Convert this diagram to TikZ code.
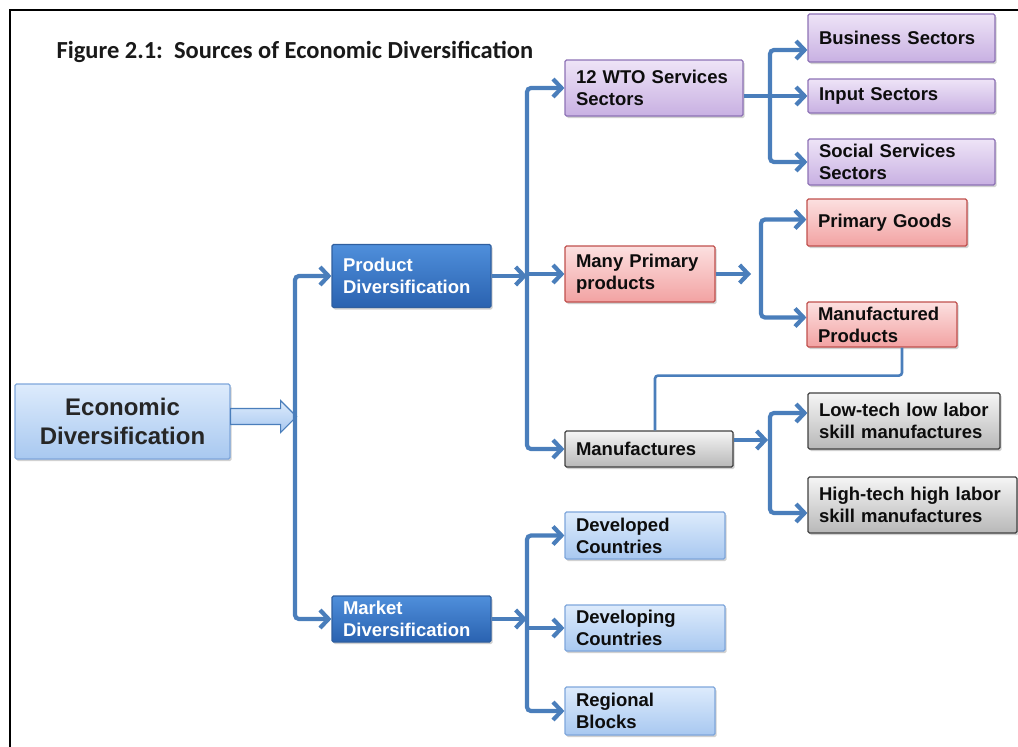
\documentclass[tikz,border=0pt]{standalone}
\usepackage{fontspec}
\setmainfont{Liberation Sans}[WordSpace=0.6]
\newfontfamily\titlefont{Carlito}
\usetikzlibrary{arrows.meta,shadows,calc}
\definecolor{connblue}{HTML}{4A7EBB}
\definecolor{lbTop}{HTML}{DDEBFC}
\definecolor{lbBot}{HTML}{A8C8F0}
\definecolor{lbLine}{HTML}{7EA6DB}
\definecolor{dbTop}{HTML}{4F8FDB}
\definecolor{dbBot}{HTML}{2A62B0}
\definecolor{dbLine}{HTML}{2F5F9F}
\definecolor{puTop}{HTML}{EEE4F7}
\definecolor{puBot}{HTML}{C8B0E2}
\definecolor{puLine}{HTML}{8D72B5}
\definecolor{rdTop}{HTML}{FCE0E0}
\definecolor{rdBot}{HTML}{F2A2A2}
\definecolor{rdLine}{HTML}{C0504D}
\definecolor{grTop}{HTML}{F5F5F5}
\definecolor{grBot}{HTML}{B8B8B8}
\definecolor{grLine}{HTML}{404040}
\begin{document}
\begin{tikzpicture}[x=1pt,y=-1pt,
  box/.style={draw, line width=1.2pt, rounded corners=1.5pt, inner xsep=11pt, inner ysep=1pt,
    align=left, text=black!95, font=\fontsize{18.5}{22}\selectfont\bfseries,
    drop shadow={shadow xshift=1.5pt, shadow yshift=-2pt, fill=black!45, opacity=0.4}},
  lightblue/.style={box, top color=lbTop, bottom color=lbBot, draw=lbLine},
  darkblue/.style={box, top color=dbTop, bottom color=dbBot, draw=dbLine, text=white},
  purplebox/.style={box, top color=puTop, bottom color=puBot, draw=puLine},
  redbox/.style={box, top color=rdTop, bottom color=rdBot, draw=rdLine},
  greybox/.style={box, top color=grTop, bottom color=grBot, draw=grLine},
  conn/.style={draw=connblue, line width=4.2pt, >={Straight Barb[length=8.5pt,width=18pt]}},
  link/.style={draw=connblue, line width=2.6pt},
  fatarrow/.style={draw=connblue, line width=1.2pt, top color=lbTop, bottom color=lbBot}
]
\useasboundingbox (0,0) rectangle (1018,747);

% frame and title
\draw[line width=2.2pt] (10,747) -- (10,10) -- (1018,10);
\node[anchor=base west, font=\titlefont\bfseries\fontsize{24.5}{28}\selectfont, text=black!90]
  (title) at (53,58) {Figure 2.1:\ \ Sources of Economic Diversification};

% root and the two branches
\node[lightblue, minimum width=215pt, minimum height=75pt, align=center,
  font=\fontsize{24}{29}\selectfont\bfseries, text=black!85] (econ) at (122.5,421.5)
  {Economic\\Diversification};
\node[darkblue, minimum width=159pt, minimum height=63pt, text width=137pt] (prod) at (411.5,276)
  {Product\\Diversification};
\node[darkblue, minimum width=159pt, minimum height=46pt, text width=137pt] (market) at (411.5,619)
  {Market\\Diversification};

% product branch
\node[purplebox, minimum width=178pt, minimum height=56pt, text width=156pt] (wto) at (654,88)
  {\mbox{12 WTO Services}\\Sectors};
\node[purplebox, minimum width=187pt, minimum height=48pt, text width=165pt] (bus) at (901.5,38)
  {Business Sectors};
\node[purplebox, minimum width=187pt, minimum height=34pt, text width=165pt] (inp) at (901.5,96)
  {Input Sectors};
\node[purplebox, minimum width=187pt, minimum height=46pt, text width=165pt] (soc) at (901.5,162)
  {Social Services\\Sectors};
\node[redbox, minimum width=150pt, minimum height=56pt, text width=128pt] (many) at (640,274)
  {\mbox{Many Primary}\\products};
\node[redbox, minimum width=160pt, minimum height=47pt, text width=138pt] (pg) at (887,222.5)
  {Primary Goods};
\node[redbox, minimum width=150pt, minimum height=45pt, text width=128pt] (mp) at (882,324.5)
  {Manufactured\\Products};
\node[greybox, minimum width=168pt, minimum height=36pt, text width=146pt] (manu) at (649,449)
  {Manufactures};
\node[greybox, minimum width=192pt, minimum height=56pt, text width=170pt] (low) at (904,421)
  {\mbox{Low-tech low labor}\\\mbox{skill manufactures}};
\node[greybox, minimum width=209pt, minimum height=56pt, text width=187pt] (high) at (912.5,505)
  {\mbox{High-tech high labor}\\\mbox{skill manufactures}};

% market branch
\node[lightblue, minimum width=160pt, minimum height=47pt, text width=138pt] (dev) at (645,535.5)
  {Developed\\Countries};
\node[lightblue, minimum width=160pt, minimum height=46pt, text width=138pt] (devg) at (645,628)
  {Developing\\Countries};
\node[lightblue, minimum width=150pt, minimum height=48pt, text width=128pt] (reg) at (640,711)
  {Regional\\Blocks};

% spine positions
\coordinate (sA) at (295,0);
\coordinate (sB) at (527,0);
\coordinate (sC) at (770,0);
\coordinate (sE) at (761,0);

% block arrow from the root to its spine
\draw[fatarrow] ([yshift=13pt]econ.east) -- ++(50,0) -- ++(0,-8) -- ++(16,16)
  -- ++(-16,16) -- ++(0,-8) -- ++(-50,0) -- cycle;
\draw[conn,<->,rounded corners=4pt] (prod.west) -| (sA |- market.west) -- (market.west);

% product diversification fan-out
\draw[conn,->] (prod.east) -- (sB |- prod.east);
\draw[conn,<->,rounded corners=4pt] (wto.west) -| (sB |- manu.west) -- (manu.west);
\draw[conn,->] (sB |- many.west) -- (many.west);

% services sectors
\coordinate (busin) at ([yshift=-12pt]bus.west);
\draw[conn,<->,rounded corners=4pt] (busin) -| (sC |- soc.west) -- (soc.west);
\draw[conn,->] (wto.east |- inp.west) -- (inp.west);

% primary products
\coordinate (pgin) at ([yshift=3pt]pg.west);
\coordinate (mpin) at ([yshift=7pt]mp.west);
\draw[conn,->] (many.east) -- ([xshift=-10pt]sE |- many.east);
\draw[conn,<->,rounded corners=4pt] (pgin) -| (sE |- mpin) -- (mpin);

% manufactured products feed manufactures
\draw[link,rounded corners=3pt] ([xshift=20pt]mp.south) -- ++(0,28) -| ([xshift=6pt]manu.north);

% manufactures
\coordinate (manuout) at ([yshift=9pt]manu.east);
\coordinate (lowin) at ([yshift=8pt]low.west);
\coordinate (highin) at ([yshift=-8pt]high.west);
\draw[conn,->] (manuout) -- ([xshift=-2pt]sC |- manuout);
\draw[conn,<->,rounded corners=4pt] (lowin) -| (sC |- highin) -- (highin);

% market diversification fan-out
\draw[conn,->] (market.east) -- (sB |- market.east);
\draw[conn,<->,rounded corners=4pt] (dev.west) -| (sB |- reg.west) -- (reg.west);
\draw[conn,->] (sB |- devg.west) -- (devg.west);
\end{tikzpicture}
\end{document}
